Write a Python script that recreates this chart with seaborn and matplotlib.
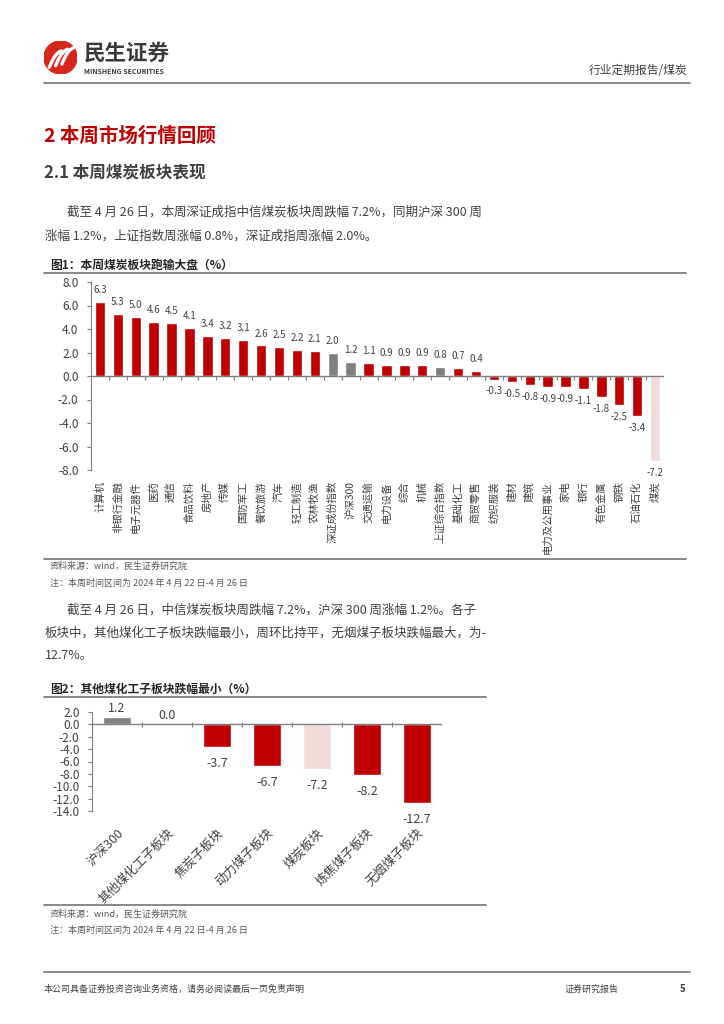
import matplotlib
matplotlib.use("Agg")
import numpy as np
import pandas as pd
import matplotlib.pyplot as plt
import seaborn as sns
from matplotlib.lines import Line2D
from matplotlib.patches import Circle

# chart 1 data
industries = ["计算机", "非银行金融", "电子元器件", "医药", "通信", "食品饮料",
              "房地产", "传媒", "国防军工", "餐饮旅游", "汽车", "轻工制造",
              "农林牧渔", "深证成份指数", "沪深300", "交通运输", "电力设备",
              "综合", "机械", "上证综合指数", "基础化工", "商贸零售",
              "纺织服装", "建材", "建筑", "电力及公用事业", "家电", "银行",
              "有色金属", "钢铁", "石油石化", "煤炭"]
industry_chg = [6.3, 5.3, 5.0, 4.6, 4.5, 4.1, 3.4, 3.2, 3.1, 2.6, 2.5, 2.2,
                2.1, 2.0, 1.2, 1.1, 0.9, 0.9, 0.9, 0.8, 0.7, 0.4, -0.3, -0.5,
                -0.8, -0.9, -0.9, -1.1, -1.8, -2.5, -3.4, -7.2]

# chart 2 data
sub_sectors = ["沪深300", "其他煤化工子板块", "焦炭子板块", "动力煤子板块",
               "煤炭板块", "炼焦煤子板块", "无烟煤子板块"]
sub_chg = [1.2, 0.0, -3.7, -6.7, -7.2, -8.2, -12.7]

index_names = ["深证成份指数", "沪深300", "上证综合指数"]
coal_names = ["煤炭", "煤炭板块"]

RED = "#C00000"
GRAY = "#808080"
PINK = "#F2DCDB"
TXT = "#404040"
LINE = "#7F7F7F"

sns.set_style("white")
plt.rcParams["font.family"] = ["Noto Sans CJK SC", "DejaVu Sans"]
plt.rcParams["axes.unicode_minus"] = False

W, H = 724, 1024
fig = plt.figure(figsize=(W / 100, H / 100), dpi=100)


def box(x0, y0, x1, y1):
    return [x0 / W, 1 - y1 / H, (x1 - x0) / W, (y1 - y0) / H]


def text(x, y, s, **kw):
    kw.setdefault("va", "center")
    fig.text(x / W, 1 - y / H, s, **kw)


def hline(y, x0, x1, color=LINE, lw=1.3):
    fig.add_artist(Line2D([x0 / W, x1 / W], [1 - y / H, 1 - y / H],
                          color=color, lw=lw))


def color_for(name):
    if name in coal_names:
        return PINK
    if name in index_names:
        return GRAY
    return RED


# header
logo = fig.add_axes(box(44, 41, 77, 74))
logo.set_xlim(0, 1)
logo.set_ylim(0, 1)
logo.axis("off")
logo.add_patch(Circle((0.5, 0.5), 0.5, color="#D9261C"))
for k in range(3):
    t = np.linspace(0, 1, 20)
    xs = 0.16 + 0.19 * k + 0.36 * t
    ys = 0.2 + 0.5 * t + 0.1 * np.sin(t * np.pi) + 0.05 * k
    logo.plot(xs, ys, color="white", lw=2.4, solid_capstyle="round")
text(84, 53, "民生证券", fontsize=15.5, fontweight="bold", color="#3A3A3A")
text(84, 71, "MINSHENG SECURITIES", fontsize=5, fontweight="bold",
     color="#3A3A3A")
text(687, 70, "行业定期报告/煤炭", fontsize=8.5, color=TXT, ha="right")
hline(83, 44, 690)

text(44, 136, "2 本周市场行情回顾", fontsize=14, fontweight="bold",
     color=RED)
text(44, 172, "2.1 本周煤炭板块表现", fontsize=12, fontweight="bold",
     color=TXT)
text(67, 212, "截至 4 月 26 日，本周深证成指中信煤炭板块周跌幅 7.2%，同期沪深 300 周",
     fontsize=9, color=TXT)
text(45, 236, "涨幅 1.2%，上证指数周涨幅 0.8%，深证成指周涨幅 2.0%。",
     fontsize=9, color=TXT)

# chart 1
text(50, 265, "图1：本周煤炭板块跑输大盘（%）", fontsize=8.5,
     fontweight="bold", color="#262626")
hline(273, 44, 686)

df1 = pd.DataFrame({"name": industries, "chg": industry_chg})
ax1 = fig.add_axes(box(91, 282, 664, 470))
sns.barplot(data=df1, x="name", y="chg", hue="name",
            palette={n: color_for(n) for n in industries}, legend=False,
            width=0.58, saturation=1, ax=ax1)
for bars, v in zip(ax1.containers, industry_chg):
    ax1.bar_label(bars, fmt="%.1f", padding=5, fontsize=7, color=TXT)
ax1.set_xlim(-0.5, len(industries) - 0.5)
ax1.set_ylim(-8, 8)
ax1.set_yticks(np.arange(-8, 9, 2))
ax1.yaxis.set_major_formatter(matplotlib.ticker.FormatStrFormatter("%.1f"))
ax1.axhline(0, color=LINE, lw=1)
ax1.vlines(np.arange(len(industries) + 1) - 0.5, -0.3, 0, color=LINE, lw=0.8)
for s in ["top", "right", "bottom"]:
    ax1.spines[s].set_visible(False)
ax1.spines["left"].set_color(LINE)
ax1.tick_params(axis="y", direction="out", length=3, color=LINE,
                labelsize=8.5, labelcolor=TXT, pad=6, left=True)
ax1.tick_params(axis="x", length=0, labelsize=7.5, labelcolor=TXT,
                rotation=90, pad=8)
ax1.set_xlabel("")
ax1.set_ylabel("")

hline(559, 44, 686)
text(50, 566, "资料来源：wind，民生证券研究院", fontsize=6.5, color="#595959")
text(50, 583, "注：本周时间区间为 2024 年 4 月 22 日-4 月 26 日", fontsize=6.5,
     color="#595959")

text(67, 610, "截至 4 月 26 日，中信煤炭板块周跌幅 7.2%，沪深 300 周涨幅 1.2%。各子",
     fontsize=9, color=TXT)
text(45, 633, "板块中，其他煤化工子板块跌幅最小，周环比持平，无烟煤子板块跌幅最大，为-",
     fontsize=9, color=TXT)
text(45, 656, "12.7%。", fontsize=9, color=TXT)

# chart 2
text(50, 689, "图2：其他煤化工子板块跌幅最小（%）", fontsize=8.5,
     fontweight="bold", color="#262626")
hline(697, 44, 486)

df2 = pd.DataFrame({"name": sub_sectors, "chg": sub_chg})
ax2 = fig.add_axes(box(92, 712, 442, 811))
sns.barplot(data=df2, x="name", y="chg", hue="name",
            palette={n: color_for(n) for n in sub_sectors}, legend=False,
            width=0.56, saturation=1, ax=ax2)
for bars, v in zip(ax2.containers, sub_chg):
    ax2.bar_label(bars, fmt="%.1f", padding=7 if v < 0 else 1.5,
                  fontsize=9, color=TXT)
ax2.set_xlim(-0.5, len(sub_sectors) - 0.5)
ax2.set_ylim(-14, 2)
ax2.set_yticks(np.arange(-14, 3, 2))
ax2.yaxis.set_major_formatter(matplotlib.ticker.FormatStrFormatter("%.1f"))
ax2.axhline(0, color=LINE, lw=1)
ax2.vlines(np.arange(len(sub_sectors) + 1) - 0.5, -0.4, 0.4, color=LINE,
           lw=0.8)
for s in ["top", "right", "bottom"]:
    ax2.spines[s].set_visible(False)
ax2.spines["left"].set_color(LINE)
ax2.tick_params(axis="y", direction="out", length=3, color=LINE,
                labelsize=8.5, labelcolor=TXT, pad=6, left=True)
ax2.tick_params(axis="x", length=0, labelsize=9, labelcolor=TXT, pad=11)
for lab in ax2.get_xticklabels():
    lab.set_rotation(45)
    lab.set_ha("right")
    lab.set_va("top")
    lab.set_rotation_mode("anchor")
ax2.set_xlabel("")
ax2.set_ylabel("")

hline(905, 44, 486)
text(50, 914, "资料来源：wind，民生证券研究院", fontsize=6.5, color="#595959")
text(50, 930, "注：本周时间区间为 2024 年 4 月 22 日-4 月 26 日", fontsize=6.5,
     color="#595959")

# footer
hline(972, 44, 690)
text(44, 989, "本公司具备证券投资咨询业务资格，请务必阅读最后一页免责声明",
     fontsize=6.5, color=TXT)
text(565, 989, "证券研究报告", fontsize=6.5, color=TXT)
text(686, 989, "5", fontsize=7, fontweight="bold", color=TXT, ha="right")

fig.savefig("out.png", dpi=100)
